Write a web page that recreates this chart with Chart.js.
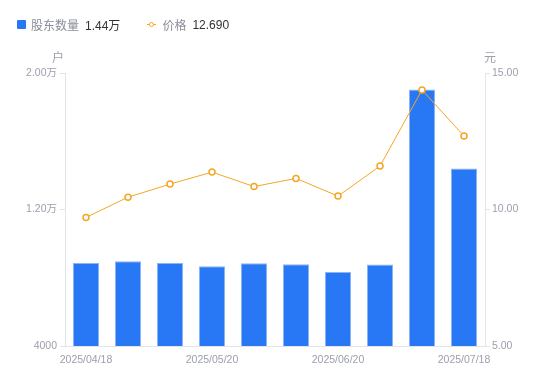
<!DOCTYPE html>
<html><head><meta charset="utf-8">
<script src="https://cdn.jsdelivr.net/npm/chart.js@4/dist/chart.umd.min.js"></script>
<style>
html,body{margin:0;padding:0;background:#fff;}
#wrap{position:relative;width:550px;height:381px;}
#legend{position:absolute;left:17px;top:16px;font-family:"Liberation Sans","Noto Sans CJK SC",sans-serif;font-size:12px;color:#8a8d99;display:flex;align-items:center;white-space:nowrap;}
.sw{display:inline-block;width:9px;height:9px;background:#2878f5;border-radius:1px;margin-right:5px;}
.val{color:#333;margin-left:6px;}
.li{position:relative;display:inline-block;width:9px;height:9px;margin-right:6px;}
.li:before{content:"";position:absolute;left:0;right:0;top:4px;height:1px;background:#f5a623;}
.li:after{content:"";position:absolute;left:1.5px;top:1.5px;width:3px;height:3px;border:1.5px solid #f5a623;border-radius:50%;background:#fff;}
canvas{position:absolute;left:0;top:0;}
</style></head>
<body><div id="wrap">
<canvas id="c" width="550" height="381"></canvas>
<div id="legend"><span class="sw"></span>股东数量<span class="val">1.44万</span><span style="width:27px;display:inline-block"></span><span class="li"></span>价格<span class="val">12.690</span></div>
</div>
<script>
const categories = ["2025/04/18","2025/04/30","2025/05/09","2025/05/20","2025/05/30","2025/06/10","2025/06/20","2025/06/30","2025/07/10","2025/07/18"];
const holders = [8860, 8960, 8870, 8670, 8845, 8790, 8340, 8770, 19040, 14400];
const prices = [9.71, 10.45, 10.93, 11.37, 10.84, 11.14, 10.49, 11.59, 14.38, 12.69];
const shownLabels = [0, 3, 6, 9];
const leftTicks = [4000, 12000, 20000];
const rightTicks = [5, 10, 15];

const tickColor = '#9ca0ad';
const lineGray = '#e3e4e8';
const font = {family: '"Liberation Sans","Noto Sans CJK SC",sans-serif', size: 10.5};

const titlePlugin = {
  id: 'axisTitles',
  afterDraw(chart) {
    const ctx = chart.ctx;
    const ca = chart.chartArea;
    ctx.save();
    ctx.fillStyle = tickColor;
    ctx.font = '12px "Noto Sans CJK SC",sans-serif';
    ctx.textAlign = 'center';
    ctx.textBaseline = 'middle';
    ctx.fillText('户', ca.left - 7, ca.top - 16);
    ctx.fillText('元', ca.right + 5, ca.top - 16);
    ctx.restore();
  }
};

new Chart(document.getElementById('c'), {
  data: {
    labels: categories,
    datasets: [
      {type: 'line', label: '价格', data: prices, yAxisID: 'y1', borderColor: '#f5a623', borderWidth: 1,
       pointRadius: 3, pointBorderWidth: 1.5, pointBackgroundColor: '#fff', pointBorderColor: '#f5a623', tension: 0, order: 0},
      {type: 'bar', label: '股东数量', data: holders, yAxisID: 'y', backgroundColor: '#2878f5',
       borderColor: '#8db4f7', borderWidth: {top: 1, left: 1, right: 1, bottom: 0}, borderSkipped: 'bottom', barPercentage: 0.62, categoryPercentage: 1, order: 1}
    ]
  },
  options: {
    responsive: false, animation: false,
    layout: {padding: {top: 73, left: 0, right: 0, bottom: 0}},
    plugins: {legend: {display: false}, tooltip: {enabled: false}},
    scales: {
      x: {
        grid: {display: false},
        border: {color: lineGray},
        ticks: {color: tickColor, font: font, autoSkip: false, maxRotation: 0, padding: 0,
          callback: function(v, i) { return shownLabels.includes(i) ? categories[i] : ''; }},
        afterFit(s) { s.height = 35; }
      },
      y: {
        position: 'left', min: 4000, max: 20000,
        grid: {drawOnChartArea: false, tickLength: 5, color: lineGray},
        border: {color: lineGray},
        afterBuildTicks(s) { s.ticks = leftTicks.map(v => ({value: v})); },
        ticks: {color: tickColor, font: font, padding: 3,
          callback: v => v >= 10000 ? (v / 10000).toFixed(2) + '万' : String(v)},
        afterFit(s) { s.width = 65; }
      },
      y1: {
        position: 'right', min: 5, max: 15,
        grid: {drawOnChartArea: false, tickLength: 5, color: lineGray},
        border: {color: lineGray},
        afterBuildTicks(s) { s.ticks = rightTicks.map(v => ({value: v})); },
        ticks: {color: tickColor, font: font, padding: 2, callback: v => v.toFixed(2)},
        afterFit(s) { s.width = 65; }
      }
    }
  },
  plugins: [titlePlugin]
});
</script>
</body></html>
